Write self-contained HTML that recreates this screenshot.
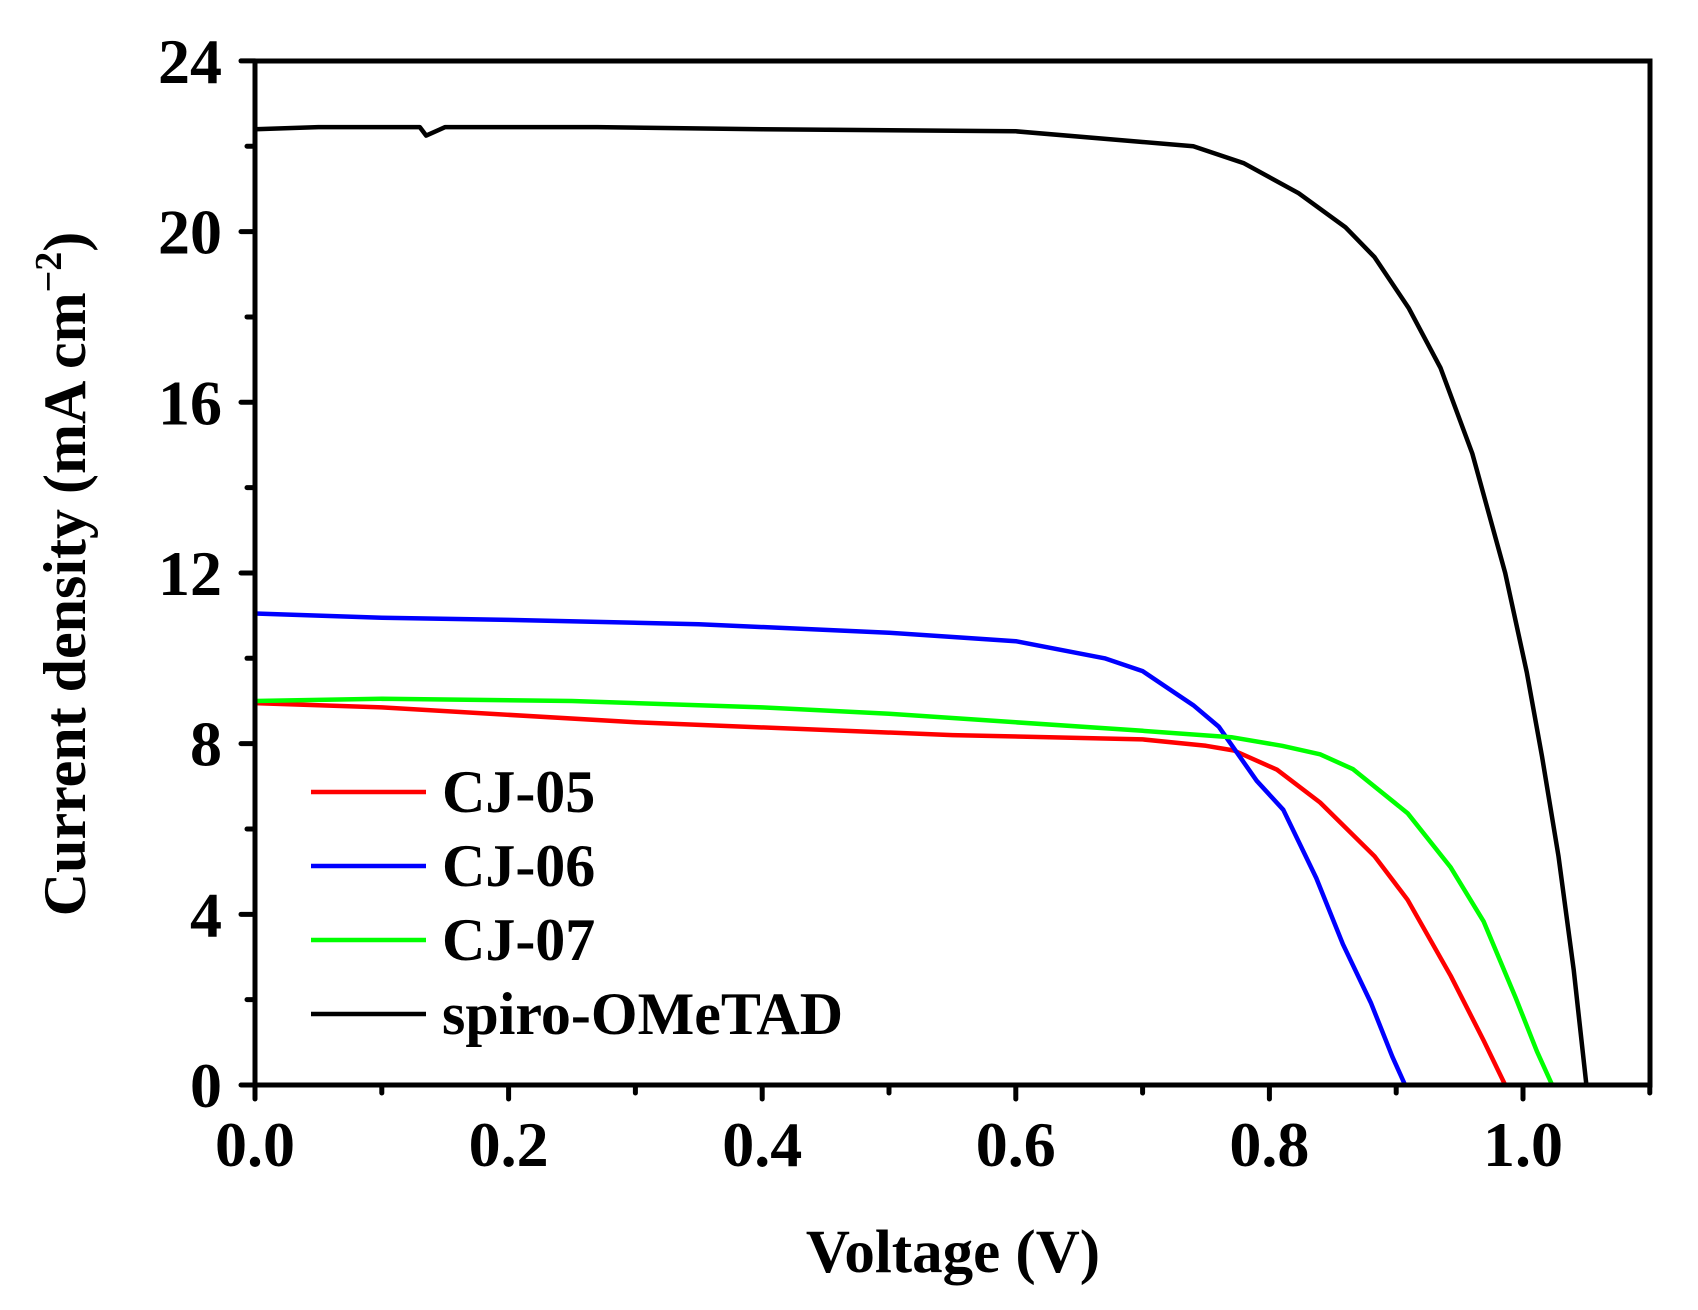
<!DOCTYPE html>
<html><head><meta charset="utf-8"><style>
body{margin:0;background:#fff}
svg text{font-family:"Liberation Serif",serif;font-weight:bold;fill:#000}
</style></head><body>
<svg id="s" width="1698" height="1305" xmlns="http://www.w3.org/2000/svg">
<g id="curves" fill="none" stroke-width="4.5" stroke-linejoin="round"></g>
<rect x="255" y="61" width="1395" height="1024" fill="none" stroke="#000" stroke-width="5"/>
<g id="ticks" stroke="#000" stroke-width="5" stroke-linecap="round"></g>
<g id="labels" font-size="64"></g>
<g stroke-width="4.5">
<line x1="311" y1="792" x2="426" y2="792" stroke="#f00"/>
<line x1="311" y1="866" x2="426" y2="866" stroke="#00f"/>
<line x1="311" y1="940" x2="426" y2="940" stroke="#0f0"/>
<line x1="311" y1="1014" x2="426" y2="1014" stroke="#000"/>
</g>
<g font-size="60">
<text x="442" y="812">CJ-05</text>
<text x="442" y="886">CJ-06</text>
<text x="442" y="960">CJ-07</text>
<text x="442" y="1034">spiro-OMeTAD</text>
</g>
<text x="953" y="1272" font-size="61" text-anchor="middle">Voltage (V)</text>
<text transform="translate(85,574) rotate(-90)" font-size="60" text-anchor="middle">Current density (mA cm<tspan dy="-24" font-size="38">−2</tspan><tspan dy="24">)</tspan></text>
</svg>
<script>
const px=v=>255+1268*v, py=j=>1085-42.67*j;
const NS="http://www.w3.org/2000/svg";
function el(p,t,a,txt){const e=document.createElementNS(NS,t);for(const k in a)e.setAttribute(k,a[k]);if(txt!=null)e.textContent=txt;p.appendChild(e);return e;}
const T=document.getElementById('ticks'),L=document.getElementById('labels');
for(let i=0;i<=11;i++){const x=px(i*0.1);const len=i%2==0?14:8;el(T,'line',{x1:x,y1:1085,x2:x,y2:1085+len});
 if(i%2==0&&i<=10)el(L,'text',{x:x,y:1166,'text-anchor':'middle'},(i/10).toFixed(1));}
for(let j=0;j<=24;j+=2){const y=py(j);const len=j%4==0?14:8;el(T,'line',{x1:255,y1:y,x2:255-len,y2:y});
 if(j%4==0)el(L,'text',{x:222,y:y+22,'text-anchor':'end'},j);}
const data={
'#000':[[0,22.4],[0.05,22.45],[0.13,22.45],[0.135,22.25],[0.15,22.45],[0.27,22.45],[0.4,22.4],[0.6,22.35],[0.7,22.1],[0.74,22.0],[0.78,21.6],[0.823,20.9],[0.86,20.1],[0.883,19.4],[0.91,18.2],[0.935,16.8],[0.96,14.8],[0.986,12],[1.003,9.67],[1.015,7.7],[1.028,5.36],[1.04,2.7],[1.05,0]],
'#f00':[[0,8.95],[0.1,8.85],[0.3,8.5],[0.55,8.2],[0.7,8.1],[0.75,7.95],[0.772,7.84],[0.806,7.39],[0.84,6.62],[0.883,5.36],[0.909,4.34],[0.943,2.56],[0.969,1.04],[0.986,0]],
'#00f':[[0,11.05],[0.1,10.95],[0.2,10.9],[0.35,10.8],[0.5,10.6],[0.6,10.4],[0.67,10.0],[0.7,9.7],[0.72,9.3],[0.74,8.9],[0.76,8.4],[0.79,7.13],[0.811,6.45],[0.837,4.85],[0.858,3.3],[0.88,1.93],[0.897,0.66],[0.907,0]],
'#0f0':[[0,9.0],[0.1,9.05],[0.25,9.0],[0.4,8.85],[0.5,8.7],[0.6,8.5],[0.7,8.3],[0.77,8.15],[0.81,7.95],[0.84,7.75],[0.866,7.4],[0.909,6.37],[0.943,5.1],[0.969,3.83],[0.994,2.06],[1.011,0.79],[1.023,0]]};
const C=document.getElementById('curves');
for(const c in data){el(C,'polyline',{stroke:c,points:data[c].map(p=>px(p[0]).toFixed(1)+','+py(p[1]).toFixed(1)).join(' ')});}
</script>
</body></html>
